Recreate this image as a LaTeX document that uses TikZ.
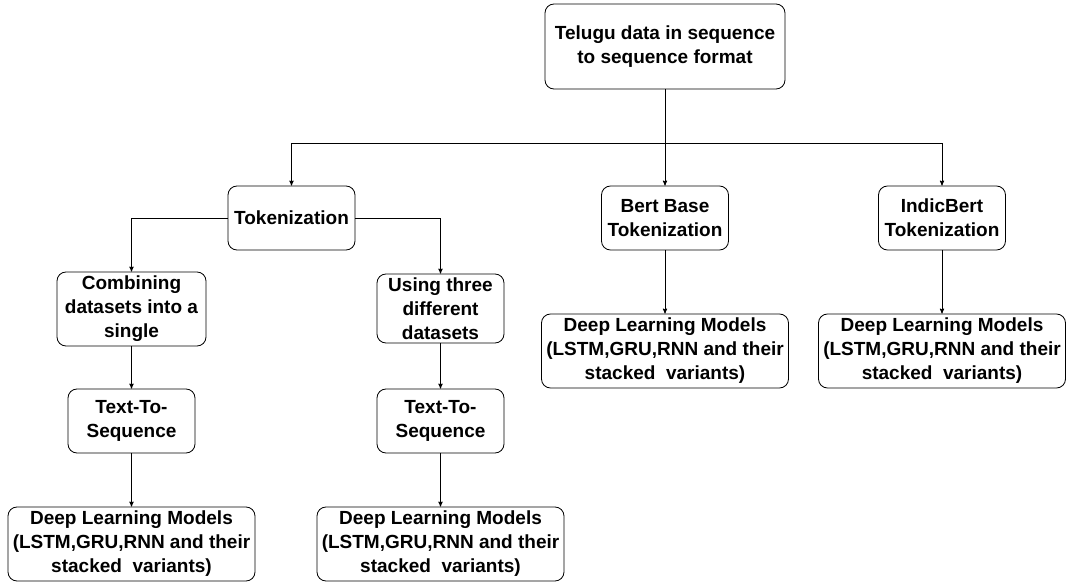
\documentclass[tikz,border=0pt]{standalone}
\usepackage{fontspec}
\setmainfont{Liberation Sans}
\usetikzlibrary{arrows}

\tikzset{
	stage/.style={draw, rounded corners=9pt, align=center, inner sep=0pt, minimum width=127pt, minimum height=64pt},
	model/.style={stage, minimum width=247pt, minimum height=74pt}
}

\begin{document}
\begin{tikzpicture}[x=1pt, y=-1pt, >=stealth', line width=0.85pt, font=\bfseries\fontsize{19}{24}\selectfont]
	\useasboundingbox (0,0) rectangle (1067,584);
	\node [stage, minimum width=240pt, minimum height=85pt] (seq) at (665,46.5) {Telugu data in sequence\\to sequence format};
	\node [stage] (tok) at (291.5,218) {Tokenization};
	\node [stage] (bert) at (665,218) {Bert Base\\Tokenization};
	\node [stage] (indic) at (942,218) {IndicBert\\Tokenization};
	\node [stage, minimum width=149pt, minimum height=74pt] (comb) at (131.5,309) {Combining\\datasets into a\\single};
	\node [stage, minimum height=69pt] (three) at (440.5,308.5) {Using three\\different\\datasets};
	\node [stage] (tts1) at (131.5,421) {Text-To-\\Sequence};
	\node [stage] (tts2) at (440.5,421) {Text-To-\\Sequence};
	\node [model] (dl1) at (131.5,544) {Deep Learning Models\\(LSTM,GRU,RNN and their\\stacked\ \ variants)};
	\node [model] (dl2) at (440.5,544) {Deep Learning Models\\(LSTM,GRU,RNN and their\\stacked\ \ variants)};
	\node [model] (dl3) at (665,351) {Deep Learning Models\\(LSTM,GRU,RNN and their\\stacked\ \ variants)};
	\node [model] (dl4) at (942,351) {Deep Learning Models\\(LSTM,GRU,RNN and their\\stacked\ \ variants)};
	\coordinate (split) at (665,143);
	\draw [->] (seq) -- (split) -| (tok);
	\draw [->] (seq) -- (bert);
	\draw [->] (split) -| (indic);
	\draw [->] (tok) -| (comb);
	\draw [->] (tok) -| (three);
	\draw [->] (comb) -- (tts1);
	\draw [->] (three) -- (tts2);
	\draw [->] (tts1) -- (dl1);
	\draw [->] (tts2) -- (dl2);
	\draw [->] (bert) -- (dl3);
	\draw [->] (indic) -- (dl4);
\end{tikzpicture}
\end{document}
